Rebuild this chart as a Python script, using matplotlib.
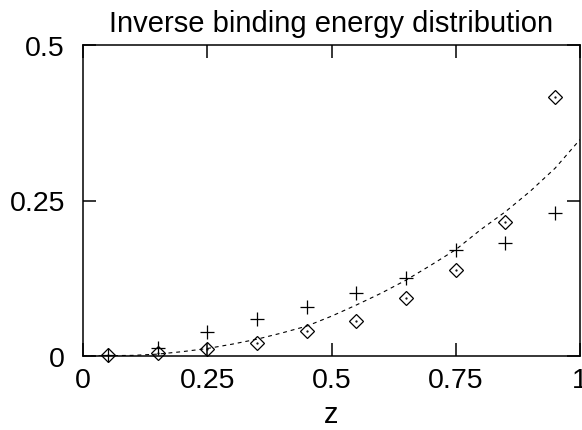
import numpy as np
import matplotlib.pyplot as plt

# measured points, z bins
z = [0.05, 0.15, 0.25, 0.35, 0.45, 0.55, 0.65, 0.75, 0.85, 0.95]
diamonds = [0.001, 0.005, 0.012, 0.021, 0.040, 0.056, 0.093, 0.139, 0.215, 0.417]
pluses = [0.001, 0.013, 0.039, 0.059, 0.078, 0.101, 0.126, 0.171, 0.182, 0.230]

# dashed curve
curve_z = [0.0, 0.05, 0.10, 0.15, 0.20, 0.25, 0.30, 0.35, 0.40, 0.45, 0.50,
           0.55, 0.60, 0.65, 0.70, 0.75, 0.80, 0.85, 0.90, 0.95, 1.0]
curve_y = [0.0, 0.0005, 0.001, 0.003, 0.007, 0.012, 0.019, 0.027, 0.037, 0.048,
           0.064, 0.082, 0.101, 0.122, 0.146, 0.171, 0.203, 0.232, 0.265, 0.302, 0.348]

xticks = [0, 0.25, 0.5, 0.75, 1]
xticklabels = ['0', '0.25', '0.5', '0.75', '1']
yticks = [0, 0.25, 0.5]
yticklabels = ['0', '0.25', '0.5']

plt.rcParams['font.family'] = ['Liberation Sans', 'DejaVu Sans']

fig = plt.figure(figsize=(5.82, 4.31), dpi=100)
ax = fig.add_axes([83 / 582, 1 - 357 / 431, 497 / 582, 311 / 431])

ax.plot(curve_z, curve_y, color='black', lw=0.8, linestyle=(0, (3.5, 3.5)))
ax.plot(z, pluses, linestyle='none', marker='+', ms=9.5, mew=0.9,
        color='black', clip_on=False)
ax.plot(z, diamonds, linestyle='none', marker='D', ms=7, mew=0.9,
        mfc='none', mec='black', clip_on=False)
ax.plot(z, diamonds, linestyle='none', marker='.', ms=1.2,
        color='black', clip_on=False)

ax.set_xlim(0, 1)
ax.set_ylim(0, 0.5)
ax.set_xticks(xticks)
ax.set_xticklabels(xticklabels)
ax.set_yticks(yticks)
ax.set_yticklabels(yticklabels)
ax.tick_params(direction='in', length=9.5, width=1.1, labelsize=20.5,
               top=True, right=True)
ax.tick_params(axis='x', pad=8)
ax.tick_params(axis='y', pad=13)
for s in ax.spines.values():
    s.set_linewidth(1.1)

ax.set_title('Inverse binding energy distribution', fontsize=21, pad=10)
ax.set_xlabel('z', fontsize=21, labelpad=5)

fig.savefig('out.png', dpi=100)
